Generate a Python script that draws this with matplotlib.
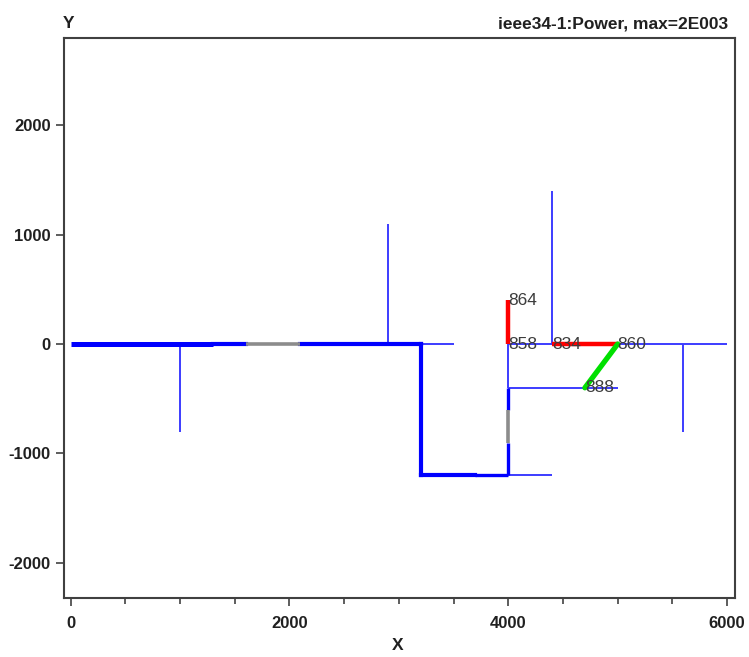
"""
IEEE 34 feeder power-flow map (ieee34-1), redrawn with matplotlib.
"""

import numpy as np
import matplotlib
matplotlib.use('Agg')
import matplotlib.pyplot as plt
from matplotlib.ticker import MultipleLocator

plt.rcParams['font.family'] = ['Liberation Sans', 'DejaVu Sans']
plt.rcParams['axes.unicode_minus'] = False

# Line segments, grouped by how the map draws them: [(x0, x1), (y0, y1)]
heavy_x = [(0, 1300)]
heavy_y = [(0, 0)]

main_x = [(1300, 1600), (2100, 3200), (3200, 3200), (3200, 3700)]
main_y = [(0, 0), (0, 0), (0, -1200), (-1200, -1200)]

mid_x = [(3700, 4000), (4000, 4000), (4000, 4000)]
mid_y = [(-1200, -1200), (-1200, -900), (-600, -400)]

regulator_x = [(1600, 2100), (4000, 4000)]
regulator_y = [(0, 0), (-900, -600)]

lateral_x = [(1000, 1000), (2900, 2900), (3200, 3500), (4000, 4400),
             (4000, 4000), (4000, 5000), (4000, 6000), (4400, 4400),
             (5600, 5600)]
lateral_y = [(0, -800), (0, 1100), (0, 0), (-1200, -1200),
             (-400, 0), (-400, -400), (0, 0), (0, 1400),
             (0, -800)]

red_x = [(4000, 4000), (4400, 5000)]
red_y = [(0, 400), (0, 0)]

green_x = [(5000, 4700)]
green_y = [(0, -400)]

# Labelled buses
bus_names = ['864', '858', '834', '860', '888']
bus_x = [4000, 4000, 4400, 5000, 4700]
bus_y = [400, 0, 0, 0, -400]

x_ticks = [0, 2000, 4000, 6000]
y_ticks = [-2000, -1000, 0, 1000, 2000]
title = 'ieee34-1:Power, max=2E003'

W, H = 749, 657
fig = plt.figure(figsize=(W / 100, H / 100), dpi=100)
ax = fig.add_axes([64 / W, 1 - 598 / H, 671 / W, 560 / H])


def draw(xs, ys, color, lw, z, cap='projecting'):
    for sx, sy in zip(xs, ys):
        ax.plot(sx, sy, color=color, lw=lw, solid_capstyle=cap, zorder=z)


draw(lateral_x, lateral_y, '#3c3cff', 1.4, 2, cap='butt')
draw(heavy_x, heavy_y, '#0000ff', 3.6, 3, cap='butt')
draw(main_x, main_y, '#0000ff', 3.0, 3)
draw(mid_x, mid_y, '#0000ff', 2.4, 3, cap='butt')
draw(regulator_x, regulator_y, '#8c8c8c', 2.6, 3, cap='butt')
draw(red_x, red_y, '#ff0000', 3.2, 4, cap='butt')
draw(green_x, green_y, '#00e000', 3.8, 4, cap='round')

for name, bx, by in zip(bus_names, bus_x, bus_y):
    ax.text(bx, by, name, ha='left', va='center', fontsize=12.5,
            color='#3c3c3c', zorder=5)

ax.set_xlim(-61, 6072)
ax.set_ylim(-2320, 2795)

ax.set_xticks(x_ticks)
ax.set_yticks(y_ticks)
ax.xaxis.set_minor_locator(MultipleLocator(500))
ax.tick_params(axis='both', which='major', direction='out', length=6,
               width=1.3, color='#505050', labelsize=12)
ax.tick_params(axis='x', which='major', pad=7)
ax.tick_params(axis='x', which='minor', direction='out', length=4,
               width=1.3, color='#505050')
for lbl in ax.get_xticklabels() + ax.get_yticklabels():
    lbl.set_fontweight('bold')
    lbl.set_color('#202020')

for sp in ax.spines.values():
    sp.set_color('#404040')
    sp.set_linewidth(1.5)

fig.text(69 / W, 1 - 23 / H, 'Y', ha='center', va='center',
         fontsize=12.5, fontweight='bold', color='#202020')
fig.text(728 / W, 1 - 24 / H, title, ha='right', va='center',
         fontsize=12.5, fontweight='bold', color='#202020')
fig.text(398 / W, 1 - 645 / H, 'X', ha='center', va='center',
         fontsize=12.5, fontweight='bold', color='#202020')

fig.savefig('out.png', dpi=100)
